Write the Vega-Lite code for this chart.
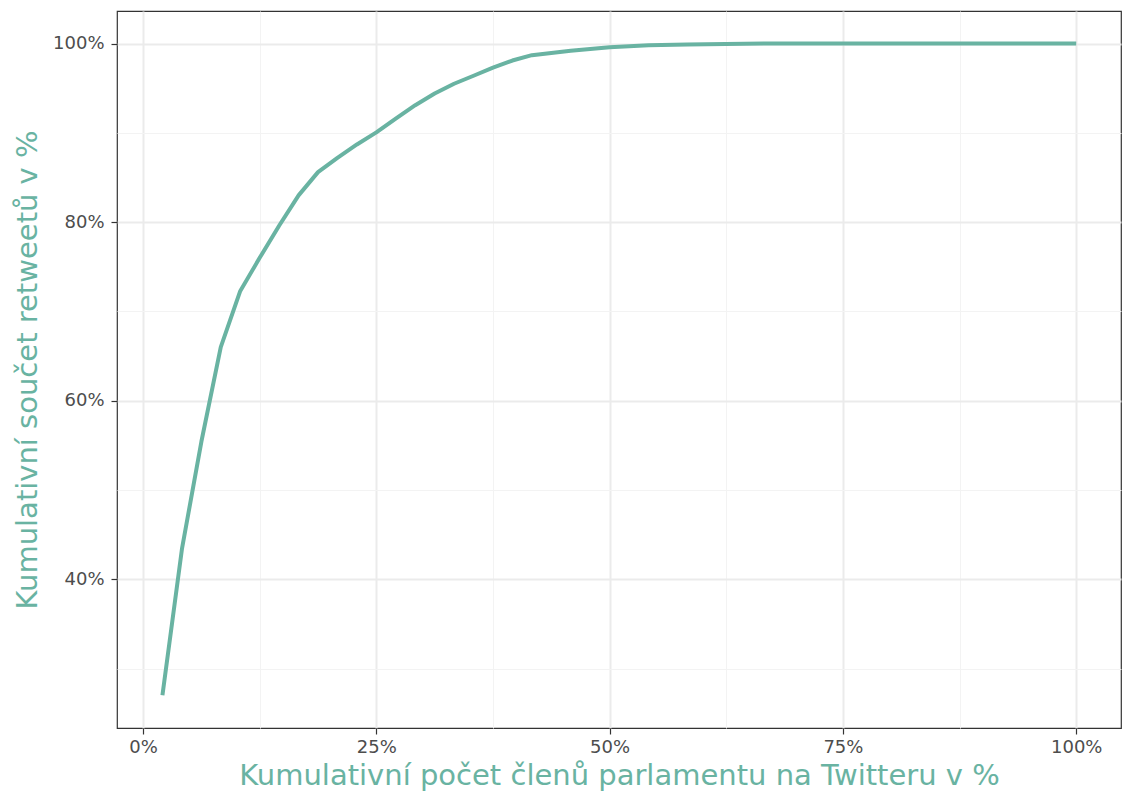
{
  "$schema": "https://vega.github.io/schema/vega-lite/v6.json",
  "width": 1004,
  "height": 717,
  "autosize": {"type": "none"},
  "padding": {"left": 117, "top": 11, "right": 7, "bottom": 68},
  "background": "white",
  "config": {
    "view": {"stroke": "#333333", "strokeWidth": 1.2},
    "font": "DejaVu Sans"
  },
  "data": {
    "values": [
      {"members": 2.08, "retweets": 27.0},
      {"members": 4.17, "retweets": 43.4},
      {"members": 6.25, "retweets": 55.4},
      {"members": 8.33, "retweets": 66.0},
      {"members": 10.42, "retweets": 72.3},
      {"members": 12.5, "retweets": 76.0},
      {"members": 14.58, "retweets": 79.6},
      {"members": 16.67, "retweets": 83.0},
      {"members": 18.75, "retweets": 85.6},
      {"members": 20.83, "retweets": 87.2},
      {"members": 22.92, "retweets": 88.7},
      {"members": 25.0, "retweets": 90.05},
      {"members": 27.08, "retweets": 91.6},
      {"members": 29.17, "retweets": 93.1},
      {"members": 31.25, "retweets": 94.4},
      {"members": 33.33, "retweets": 95.5},
      {"members": 35.42, "retweets": 96.4},
      {"members": 37.5, "retweets": 97.3},
      {"members": 39.58, "retweets": 98.1},
      {"members": 41.67, "retweets": 98.7},
      {"members": 45.83, "retweets": 99.2},
      {"members": 50.0, "retweets": 99.6},
      {"members": 54.17, "retweets": 99.8},
      {"members": 58.33, "retweets": 99.9},
      {"members": 66.67, "retweets": 100.0},
      {"members": 100.0, "retweets": 100.0}
    ]
  },
  "mark": {"type": "line", "color": "#69b3a2", "strokeWidth": 4, "strokeJoin": "round"},
  "encoding": {
    "x": {
      "field": "members",
      "type": "quantitative",
      "scale": {"domain": [-2.79, 104.8], "nice": false, "zero": false},
      "axis": {
        "title": "Kumulativní počet členů parlamentu na Twitteru v %",
        "titleColor": "#69b3a2",
        "titleFont": "DejaVu Sans",
        "titleFontSize": 29,
        "titleFontWeight": "normal",
        "titlePadding": 5,
        "values": [0, 12.5, 25, 37.5, 50, 62.5, 75, 87.5, 100],
        "labelExpr": "datum.value % 25 == 0 ? datum.value + '%' : ''",
        "labelFont": "DejaVu Sans",
        "labelFontSize": 18,
        "labelColor": "#4d4d4d",
        "labelPadding": 4,
        "labelFlush": false,
        "tickSize": 6,
        "tickWidth": 1.2,
        "tickColor": "#333333",
        "tickOpacity": {"condition": {"test": "datum.value % 25 != 0", "value": 0}, "value": 1},
        "domain": false,
        "grid": true,
        "gridColor": {"condition": {"test": "datum.value % 25 != 0", "value": "#f3f3f3"}, "value": "#ebebeb"},
        "gridWidth": {"condition": {"test": "datum.value % 25 != 0", "value": 1}, "value": 2}
      }
    },
    "y": {
      "field": "retweets",
      "type": "quantitative",
      "scale": {"domain": [23.34, 103.65], "nice": false, "zero": false},
      "axis": {
        "title": "Kumulativní součet retweetů v %",
        "titleColor": "#69b3a2",
        "titleFont": "DejaVu Sans",
        "titleFontSize": 29,
        "titleFontWeight": "normal",
        "titlePadding": 10,
        "values": [30, 40, 50, 60, 70, 80, 90, 100],
        "labelExpr": "datum.value % 20 == 0 ? datum.value + '%' : ''",
        "labelFont": "DejaVu Sans",
        "labelFontSize": 18,
        "labelColor": "#4d4d4d",
        "labelPadding": 7,
        "labelFlush": false,
        "tickSize": 6,
        "tickWidth": 1.2,
        "tickColor": "#333333",
        "tickOpacity": {"condition": {"test": "datum.value % 20 != 0", "value": 0}, "value": 1},
        "domain": false,
        "grid": true,
        "gridColor": {"condition": {"test": "datum.value % 20 != 0", "value": "#f3f3f3"}, "value": "#ebebeb"},
        "gridWidth": {"condition": {"test": "datum.value % 20 != 0", "value": 1}, "value": 2}
      }
    }
  }
}
